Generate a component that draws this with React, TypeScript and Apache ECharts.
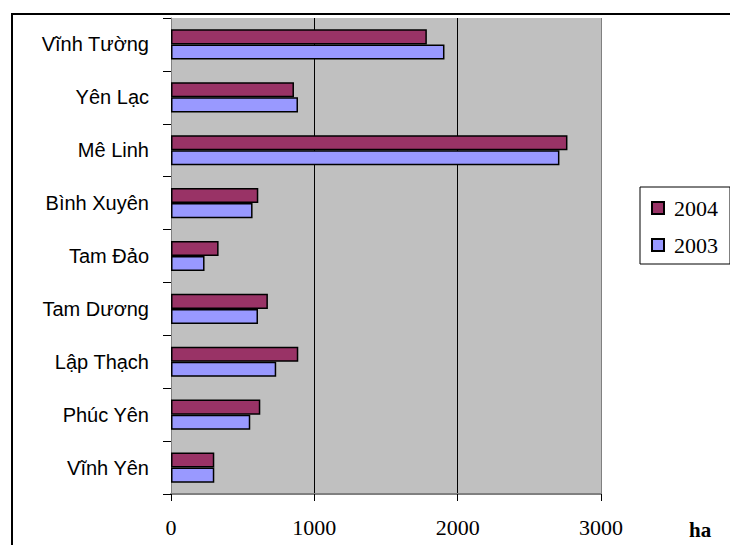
import React, { useEffect, useRef } from "react";
import * as echarts from "echarts";

const categories = [
  "Vĩnh Yên",
  "Phúc Yên",
  "Lập Thạch",
  "Tam Dương",
  "Tam Đảo",
  "Bình Xuyên",
  "Mê Linh",
  "Yên Lạc",
  "Vĩnh Tường",
];
const values2003 = [302, 553, 734, 607, 234, 569, 2710, 886, 1908];
const values2004 = [302, 623, 888, 676, 332, 609, 2766, 858, 1785];
const xTicks = [0, 1000, 2000, 3000];

export default function App() {
  const ref = useRef<HTMLDivElement>(null);
  useEffect(() => {
    if (!ref.current) return;
    const chart = echarts.init(ref.current, null, { renderer: "svg" });
    chart.setOption({
      animation: false,
      backgroundColor: "#ffffff",
      grid: {
        left: 171,
        top: 18,
        width: 430,
        height: 476,
        show: true,
        backgroundColor: "#C0C0C0",
        borderWidth: 0,
      },
      legend: {
        orient: "vertical",
        left: 640,
        top: 187,
        data: ["2004", "2003"],
        icon: "rect",
        itemWidth: 12,
        itemHeight: 12,
        itemGap: 15,
        padding: [10, 12, 8, 11],
        borderColor: "#000",
        borderWidth: 1,
        textStyle: {
          fontFamily: "Liberation Serif",
          fontSize: 22,
          color: "#000",
          padding: [0, 0, 0, 5],
        },
      },
      xAxis: {
        type: "value",
        min: xTicks[0],
        max: xTicks[xTicks.length - 1],
        interval: 1000,
        axisLine: { show: true, lineStyle: { color: "#808080", width: 2 } },
        axisTick: { show: true, length: 7, lineStyle: { color: "#000" } },
        axisLabel: {
          margin: 22,
          fontFamily: "Liberation Serif",
          fontSize: 22,
          color: "#000",
          formatter: (v: number) => String(v),
        },
        splitLine: {
          show: true,
          lineStyle: { color: ["#808080", "#000", "#000", "#808080"], width: 1 },
        },
      },
      yAxis: {
        type: "category",
        data: categories,
        axisLine: { show: true, lineStyle: { color: "#808080", width: 1 } },
        axisTick: { show: true, length: 8, lineStyle: { color: "#000" } },
        axisLabel: {
          margin: 22,
          fontFamily: "Liberation Sans",
          fontSize: 20,
          color: "#000",
        },
      },
      series: [
        {
          name: "2004",
          type: "bar",
          data: values2004,
          barGap: "0%",
          barCategoryGap: "43%",
          itemStyle: { color: "#993366", borderColor: "#000", borderWidth: 1.5 },
        },
        {
          name: "2003",
          type: "bar",
          data: values2003,
          barGap: "0%",
          barCategoryGap: "43%",
          itemStyle: { color: "#9999FF", borderColor: "#000", borderWidth: 1.5 },
        },
      ],
      graphic: [
        {
          type: "rect",
          shape: { x: 12, y: 14, width: 800, height: 600 },
          style: { fill: "none", stroke: "#000", lineWidth: 2 },
          silent: true,
        },
        {
          type: "text",
          left: 689,
          top: 519,
          style: {
            text: "ha",
            font: "bold 21px 'Liberation Serif'",
            fill: "#000",
          },
        },
      ],
    });
    return () => chart.dispose();
  }, []);
  return (
    <div
      ref={ref}
      style={{ position: "fixed", left: 0, top: 0, width: 730, height: 545 }}
    />
  );
}
